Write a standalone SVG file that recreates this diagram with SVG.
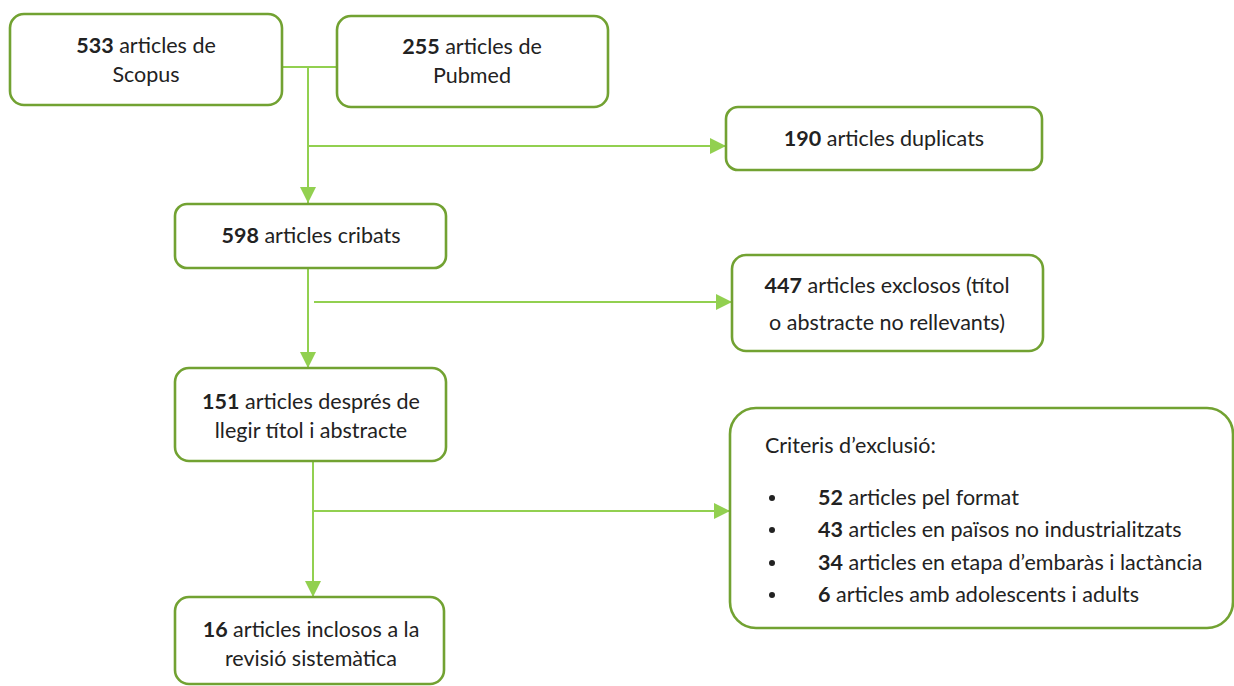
<svg xmlns="http://www.w3.org/2000/svg" width="1234" height="686" viewBox="0 0 1234 686">
<style>
.box{fill:#fff;stroke:#72a232;stroke-width:2.6}
.con{fill:none;stroke:#92d050;stroke-width:2}
text{font-family:"Lato","Liberation Sans",sans-serif;font-size:21.5px;fill:#222}
.c{text-anchor:middle}
.b{font-weight:bold}
</style>
<defs>
<marker id="arr" viewBox="0 0 10 10" refX="10" refY="5" markerWidth="16" markerHeight="16" markerUnits="userSpaceOnUse" orient="auto">
<path d="M0,0 L10,5 L0,10 z" fill="#92d050"/>
</marker>
</defs>
<g id="connectors">
<path class="con" d="M282,67 H337"/>
<path class="con" d="M308,67 V203" marker-end="url(#arr)"/>
<path class="con" d="M308,146 H726" marker-end="url(#arr)"/>
<path class="con" d="M308,268 V368" marker-end="url(#arr)"/>
<path class="con" d="M314,302 H732" marker-end="url(#arr)"/>
<path class="con" d="M313,461 V597" marker-end="url(#arr)"/>
<path class="con" d="M313,511 H730" marker-end="url(#arr)"/>
</g>
<g id="n-scopus">
<rect class="box" x="10" y="14" width="272" height="91" rx="14"/>
<text class="c" x="146" y="53"><tspan class="b">533</tspan> articles de</text>
<text class="c" x="146" y="82">Scopus</text>
</g>
<g id="n-pubmed">
<rect class="box" x="337" y="16" width="271" height="91" rx="14"/>
<text class="c" x="472" y="54"><tspan class="b">255</tspan> articles de</text>
<text class="c" x="472" y="83">Pubmed</text>
</g>
<g id="n-duplicats">
<rect class="box" x="726" y="107" width="316" height="63" rx="12"/>
<text class="c" x="884" y="146"><tspan class="b">190</tspan> articles duplicats</text>
</g>
<g id="n-cribats">
<rect class="box" x="175" y="204" width="271" height="64" rx="12"/>
<text class="c" x="311" y="243"><tspan class="b">598</tspan> articles cribats</text>
</g>
<g id="n-exclosos">
<rect class="box" x="732" y="255" width="311" height="96" rx="14"/>
<text class="c" x="887" y="293"><tspan class="b">447</tspan> articles exclosos (títol</text>
<text class="c" x="887" y="330">o abstracte no rellevants)</text>
</g>
<g id="n-151">
<rect class="box" x="175" y="368" width="271" height="93" rx="14"/>
<text class="c" x="311" y="409"><tspan class="b">151</tspan> articles després de</text>
<text class="c" x="311" y="438">llegir títol i abstracte</text>
</g>
<g id="n-criteris">
<rect class="box" x="730" y="408" width="503" height="220" rx="26"/>
<text x="765" y="453">Criteris d’exclusió:</text>
<g>
<circle cx="772" cy="498" r="3" fill="#222"/>
<circle cx="772" cy="530" r="3" fill="#222"/>
<circle cx="772" cy="563" r="3" fill="#222"/>
<circle cx="772" cy="595" r="3" fill="#222"/>
</g>
<text x="818" y="505"><tspan class="b">52</tspan> articles pel format</text>
<text x="818" y="537"><tspan class="b">43</tspan> articles en països no industrialitzats</text>
<text x="818" y="570"><tspan class="b">34</tspan> articles en etapa d’embaràs i lactància</text>
<text x="818" y="602"><tspan class="b">6</tspan> articles amb adolescents i adults</text>
</g>
<g id="n-16">
<rect class="box" x="175" y="597" width="269" height="87" rx="14"/>
<text class="c" x="311" y="637"><tspan class="b">16</tspan> articles inclosos a la</text>
<text class="c" x="311" y="666">revisió sistemàtica</text>
</g>
</svg>
